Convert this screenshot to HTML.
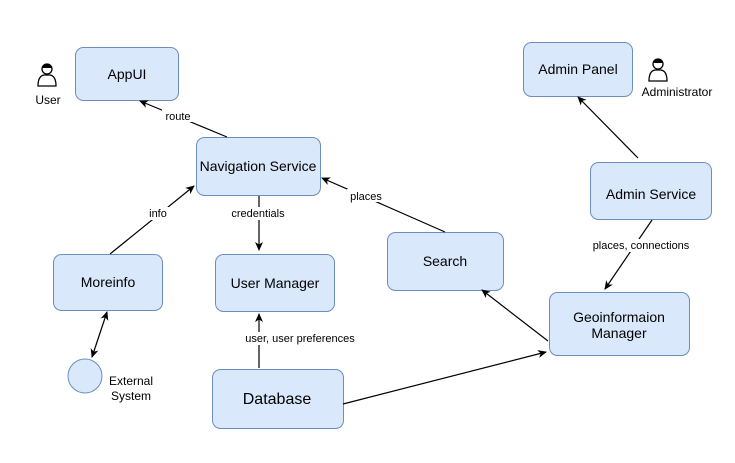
<!DOCTYPE html>
<html><head><meta charset="utf-8"><style>body{margin:0;background:#fff}svg{display:block;font-family:"Liberation Sans",Arial,sans-serif}</style></head><body>
<svg width="735" height="463" viewBox="0 0 735 463">
<defs><marker id="a" markerWidth="10" markerHeight="10" refX="8" refY="5" orient="auto" markerUnits="userSpaceOnUse"><path d="M0,1 L9,5 L0,9 L2.5,5 Z" fill="#000"/></marker>
<marker id="b" markerWidth="10" markerHeight="10" refX="1" refY="5" orient="auto" markerUnits="userSpaceOnUse"><path d="M9,1 L0,5 L9,9 L6.5,5 Z" fill="#000"/></marker></defs>
<g fill="#dae8fc" stroke="#6c8ebf" stroke-width="1">
<rect x="75.5" y="47.5" width="103" height="53" rx="8"/>
<rect x="196.5" y="137.5" width="124" height="58" rx="8"/>
<rect x="53.5" y="254.5" width="109" height="56" rx="8"/>
<rect x="215.5" y="254.5" width="119" height="57" rx="8"/>
<rect x="387.5" y="232.5" width="116" height="58" rx="8"/>
<rect x="523.5" y="42.5" width="109" height="54" rx="8"/>
<rect x="590.5" y="162.5" width="121" height="57" rx="8"/>
<rect x="549.5" y="292.5" width="140" height="63" rx="8"/>
<rect x="212.5" y="369.5" width="131" height="59" rx="8"/>
<circle cx="85" cy="376" r="17"/>
</g>
<g stroke="#000" stroke-width="1.2" fill="none">
<line x1="227" y1="137" x2="140" y2="101" marker-end="url(#a)"/>
<line x1="110" y1="254" x2="194" y2="186" marker-end="url(#a)"/>
<line x1="259" y1="196" x2="259" y2="250" marker-end="url(#a)"/>
<line x1="445" y1="232" x2="322" y2="178" marker-end="url(#a)"/>
<line x1="638" y1="158" x2="578" y2="97" marker-end="url(#a)"/>
<line x1="652" y1="220" x2="605" y2="289" marker-end="url(#a)"/>
<line x1="548" y1="341" x2="482" y2="290" marker-end="url(#a)"/>
<line x1="343" y1="404" x2="546" y2="352" marker-end="url(#a)"/>
<line x1="259" y1="368" x2="259" y2="314" marker-end="url(#a)"/>
<line x1="107" y1="312" x2="92" y2="357" marker-start="url(#b)" marker-end="url(#a)"/>
</g>
<g font-size="11" text-anchor="middle" fill="#000">
<rect x="162" y="109" width="32" height="13" fill="#fff"/><text x="178" y="120">route</text>
<rect x="146" y="207" width="24" height="13" fill="#fff"/><text x="158" y="217">info</text>
<rect x="228" y="207" width="60" height="13" fill="#fff"/><text x="258" y="217">credentials</text>
<rect x="347" y="189" width="38" height="13" fill="#fff"/><text x="366" y="200">places</text>
<rect x="592" y="239" width="100" height="13" fill="#fff"/><text x="641" y="249">places, connections</text>
<rect x="244" y="332" width="112" height="13" fill="#fff"/><text x="300" y="342">user, user preferences</text>
<text x="48" y="104" font-size="12">User</text>
<text x="677" y="96" font-size="12">Administrator</text>
<text x="131" y="385" font-size="12">External</text>
<text x="131" y="400" font-size="12">System</text>
</g>
<g font-size="14" text-anchor="middle" fill="#000">
<text x="127" y="79">AppUI</text>
<text x="258" y="171">Navigation Service</text>
<text x="108" y="287">Moreinfo</text>
<text x="275" y="288">User Manager</text>
<text x="445" y="266">Search</text>
<text x="578" y="74">Admin Panel</text>
<text x="651" y="199">Admin Service</text>
<text x="619" y="322">Geoinformaion</text>
<text x="619" y="338">Manager</text>
<text x="277" y="404" font-size="16">Database</text>
</g>
<g fill="none" stroke="#000" stroke-width="1.3">
<circle cx="47" cy="69" r="5"/><path d="M38,86 Q38,76 44,75 L50,75 Q56,76 56,86 Z"/>
<circle cx="658" cy="64" r="5"/><path d="M649,81 Q649,71 655,70 L661,70 Q667,71 667,81 Z"/>
</g>
<path d="M42,68 Q47,60 52,68 Z" fill="#000"/><path d="M653,63 Q658,55 663,63 Z" fill="#000"/>
</svg>
</body></html>
